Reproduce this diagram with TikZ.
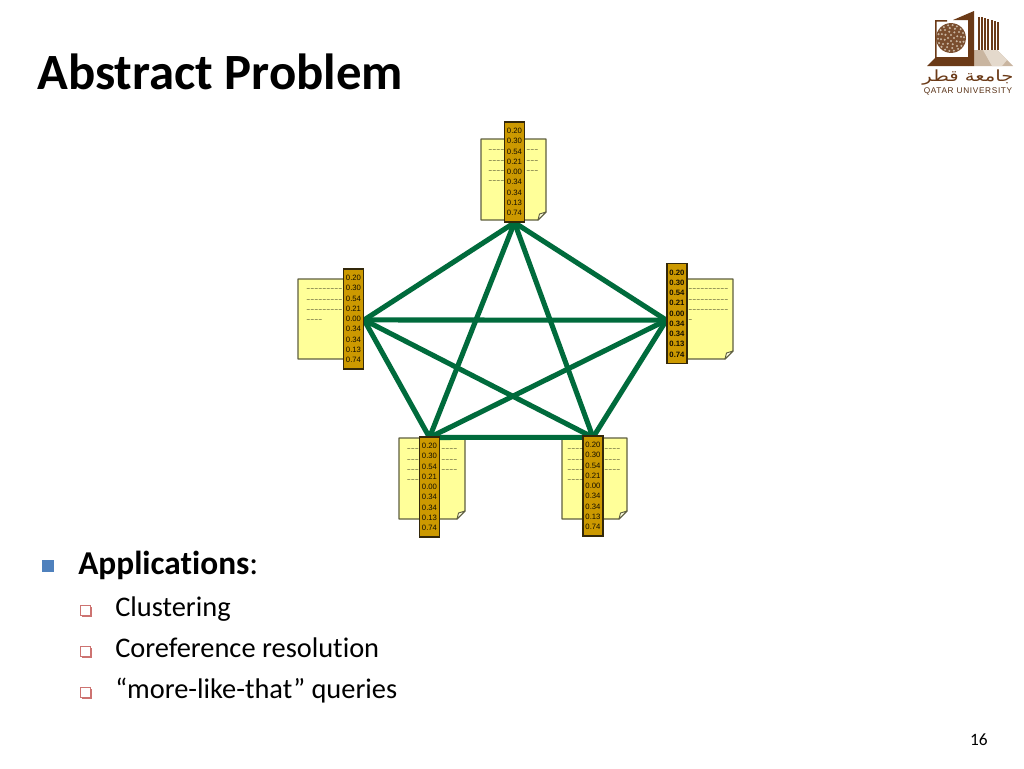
\documentclass[tikz,border=0pt]{standalone}
\usepackage{fontspec}
\setmainfont[Ligatures=NoCommon]{Carlito}
\newfontfamily\stripfont{Liberation Sans}
\newfontfamily\tildefont{DejaVu Sans}
\newfontfamily\logofont[LetterSpace=8]{Liberation Sans}
\newfontfamily\arabicfont[Script=Arabic]{DejaVu Sans}
\TeXXeTstate=1
\usetikzlibrary{calc}
\pgfdeclarelayer{pagelayer}
\pgfdeclarelayer{linklayer}
\pgfsetlayers{pagelayer,linklayer,main}
\definecolor{pagefill}{HTML}{FFFF99}
\definecolor{pageedge}{HTML}{5E5E40}
\definecolor{stripfill}{HTML}{CC9900}
\definecolor{stripedge}{HTML}{33280A}
\definecolor{linkgreen}{HTML}{006B3C}
\definecolor{bulletblue}{HTML}{4F81BD}
\definecolor{bulletred}{HTML}{C0504D}
\definecolor{logodark}{HTML}{6B3A17}
\definecolor{logotan}{HTML}{C9B5A0}
\definecolor{logolight}{HTML}{E4D9CC}
\tikzset{
  stripbox/.style={draw=stripedge,fill=stripfill,line width=.9pt,inner sep=0pt,
    minimum width=15pt,minimum height=75pt,align=center,text=black!90!stripfill,
    font=\stripfont\fontsize{5.8}{7.68}\selectfont},
  stripbold/.style={stripbox,font=\stripfont\bfseries\fontsize{5.8}{7.68}\selectfont},
  tildes/.style={anchor=north west,inner sep=0pt,align=left,text=black,
    font=\tildefont\fontsize{3.6}{7.68}\selectfont},
  link/.style={draw=linkgreen,line width=3.8pt},
  headline/.style={anchor=base west,inner sep=0pt,font=\fontsize{38.1}{44}\bfseries\selectfont},
  lvlone/.style={anchor=base west,inner sep=0pt,font=\fontsize{25}{28}\selectfont},
  lvltwo/.style={anchor=base west,inner sep=0pt,font=\fontsize{21.3}{24}\selectfont},
  pagenum/.style={anchor=base east,inner sep=0pt,font=\fontsize{13}{15}\selectfont},
  redbox/.style={draw=bulletred!80,fill=white,line width=.6pt},
  logoshape/.style={fill=logodark,draw=none},
}
\newcommand{\docpage}[4]{%
  \path[draw=pageedge,fill=pagefill,line width=.9pt,line join=round]
    (#1,#2) -- (#3,#2) -- (#3,#4-8) -- (#3-8,#4) -- (#1,#4) -- cycle;
  \path[draw=pageedge,fill=white!70!pagefill,line width=.7pt,line join=round]
    (#3,#4-8) -- (#3-6.5,#4-6) -- (#3-8,#4) -- cycle;}
\newcommand{\vals}{0.20\\0.30\\0.54\\0.21\\0.00\\0.34\\0.34\\0.13\\0.74}
\newcommand{\ti}[1]{\foreach \k in {1,...,#1}{\char`\~}}
\newcommand{\redbullet}[1]{%
  \fill[bulletred!80] (81.5,#1-9.5) rectangle (91.5,#1+.7);
  \path[redbox] (80.5,#1-11) rectangle (90,#1-1);}
\begin{document}
\begin{tikzpicture}[x=.75pt,y=-.75pt]
\useasboundingbox (0,0) rectangle (1024,768);

% strips
\node[stripbox] (dT) at (514.5,172) {\vals};
\node[stripbox] (dL) at (353.5,319) {\vals};
\node[stripbold] (dR) at (677,313.5) {\vals};
\node[stripbox] (dB) at (429.5,487) {\vals};
\node[stripbox] (dC) at (593,486) {\vals};

% pages
\begin{pgfonlayer}{pagelayer}
\fill[white] (0,0) rectangle (1024,768);
\docpage{481}{139}{546}{220}
\docpage{298}{279}{363}{359}
\docpage{667}{279}{733}{359}
\docpage{399}{438}{465}{519}
\docpage{562}{438}{627}{519}
\end{pgfonlayer}
% tilde text on the pages, either side of the strips
\node[tildes] (tTa) at (488,144.5) {\strut\ti{4}\\\ti{4}\\\ti{4}\\\ti{4}};
\node[tildes] (tTb) at (526,144.5) {\strut\ti{3}\\\ti{3}\\\ti{3}};
\node[tildes] (tLa) at (306,283.5) {\strut\ti{9}\\\ti{9}\\\ti{9}\\\ti{4}};
\node[tildes] (tRb) at (688,283.5) {\strut\ti{10}\\\ti{10}\\\ti{10}\\\ti{1}};
\node[tildes] (tBa) at (406.5,443.5) {\strut\ti{3}\\\ti{3}\\\ti{3}\\\ti{3}};
\node[tildes] (tBb) at (441,443.5) {\strut\ti{4}\\\ti{4}\\\ti{4}};
\node[tildes] (tCa) at (567,443.5) {\strut\ti{4}\\\ti{4}\\\ti{4}\\\ti{4}};
\node[tildes] (tCb) at (604,443.5) {\strut\ti{4}\\\ti{4}\\\ti{4}};

% links
\coordinate (eT) at (dT.south);
\coordinate (eL) at ([yshift=-.7pt]dL.east);
\coordinate (eR) at ([yshift=-5pt]dR.west);
\coordinate (eB) at ([yshift=-.8pt]dB.north);
\coordinate (eC) at ([yshift=-1.5pt]dC.north);
\begin{pgfonlayer}{linklayer}
\foreach \a/\b in {eT/eL,eT/eR,eT/eB,eT/eC,eL/eR,eL/eB,eL/eC,eR/eB,eR/eC,eB/eC}
  \draw[link] (\a) -- (\b);
\end{pgfonlayer}

% title and text
\node[headline] (title) at (37,89) {Abstract Problem};
\fill[bulletblue] (42,560) rectangle (54,572);
\node[lvlone] (apps) at (78,574) {\textbf{Applications}:};
\redbullet{616}
\redbullet{657}
\redbullet{698}
\node[lvltwo] (i1) at (115,616) {Clustering};
\node[lvltwo] (i2) at (115,657) {Coreference resolution};
\node[lvltwo] (i3) at (115,698) {“more-like-that” queries};
\node[pagenum] (num) at (988,745) {16};

% logo
\fill[logotan] (974,50) -- (997,50) -- (1013,66) -- (974,66) -- cycle;
\fill[logolight] (983,50) -- (997,50) -- (1007,60) -- (1002,66) -- (992,66) -- cycle;
\foreach \i in {0,...,6}
  \fill[logodark] (977.5+\i*3.3,{16.5+\i*.9}) rectangle ++(2,{33-\i*.9});
\path[logoshape] (953,20) -- (974,11) -- (974,66) -- (968,66) -- (968,20) -- cycle;
\path[logoshape] (935,20) -- (947,20) -- (947,21.5) -- (936.5,21.5) -- (936.5,57) -- (968,57) -- (968,66) -- (927,66) -- (935,58) -- cycle;
\fill[logodark!90] (951,38) circle[radius=11.2pt];
\foreach \r/\n/\s in {3/4/0,6.5/8/15,10/12/7,13/18/3}
  \foreach \i in {1,...,\n}
    \fill[logotan] ($(951,38)+({\s+360/\n*\i}:\r*.75pt)$) circle[radius=.85pt];
\node[inner sep=0pt,text=logodark,xscale=1.4,yscale=1.1,font=\arabicfont\fontsize{10.5}{12}\selectfont] (logoar) at (968,77.5) {\beginR جامعة قطر\endR};
\node[inner sep=0pt,text=logodark!80!black,font=\logofont\fontsize{6.2}{8}\selectfont] (logoen) at (968,91.5) {QATAR UNIVERSITY};
\end{tikzpicture}
\end{document}
